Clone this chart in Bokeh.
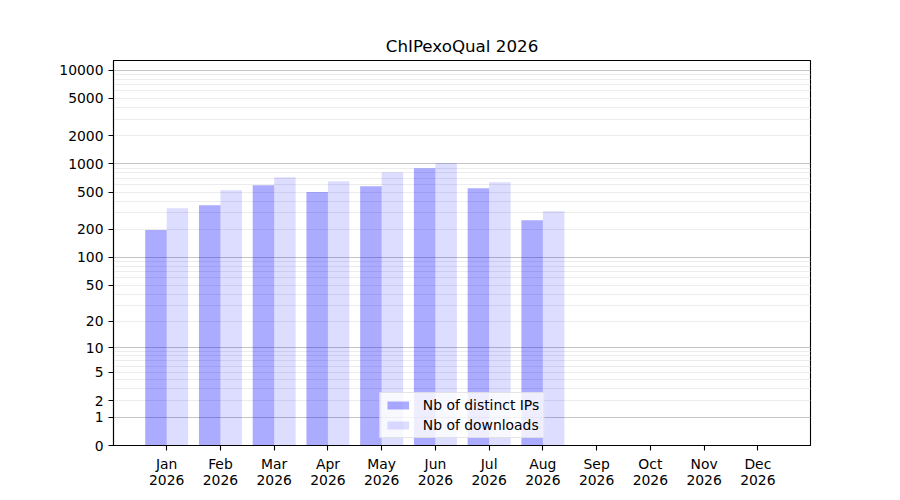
import numpy as np
from bokeh.plotting import figure
from bokeh.models import (FixedTicker, Range1d, ColumnDataSource, Legend, LegendItem,
                          CustomJSTickFormatter)
from bokeh.embed import file_html
from bokeh.resources import INLINE

# ---- data ----
title = "ChIPexoQual 2026"
year = "2026"
months = ["Jan", "Feb", "Mar", "Apr", "May", "Jun", "Jul", "Aug", "Sep", "Oct", "Nov", "Dec"]
ips = [197, 363, 593, 500, 579, 900, 551, 250]
downloads = [337, 525, 722, 654, 816, 1018, 638, 313]
y_tick_labels = [0, 1, 2, 5, 10, 20, 50, 100, 200, 500, 1000, 2000, 5000, 10000]
y_grid_major = [1, 10, 100, 1000, 10000]
y_top_value = 12650


def tr(v):
    # log10(1 + v) scale
    return np.log10(1.0 + np.asarray(v, dtype=float))


minor_vals = [m * 10 ** k for k in range(0, 5) for m in range(2, 10) if m * 10 ** k < y_top_value]

FONT = "DejaVu Sans"

p = figure(width=892, height=492, output_backend="svg", toolbar_location=None,
           x_range=Range1d(-0.99, 11.98), y_range=Range1d(0, float(tr(y_top_value))),
           min_border_left=113, min_border_right=82, min_border_top=60, min_border_bottom=47)

p.title.text = title
p.title.align = "center"
p.title.text_font = FONT
p.title.text_font_size = "16.7px"
p.title.text_font_style = "normal"
p.title.text_color = "black"
p.title.standoff = 9

p.outline_line_color = "black"
p.outline_line_width = 1.1
p.outline_line_alpha = 1.0

n = len(ips)
idx = np.arange(n)
src_ip = ColumnDataSource(dict(x=idx - 0.2, top=tr(ips)))
src_dl = ColumnDataSource(dict(x=idx + 0.2, top=tr(downloads)))

r_ip = p.vbar(x="x", top="top", bottom=0, width=0.4, source=src_ip,
              fill_color="blue", fill_alpha=0.33, line_color=None)
r_dl = p.vbar(x="x", top="top", bottom=0, width=0.4, source=src_dl,
              fill_color="blue", fill_alpha=0.135, line_color=None)

# x axis
p.xaxis.ticker = FixedTicker(ticks=list(range(len(months))), minor_ticks=[])
p.xaxis.major_label_overrides = {i: f"{m}\n{year}" for i, m in enumerate(months)}
p.xaxis.major_label_text_line_height = 1.0
p.xgrid.visible = False

# y axis
p.yaxis.ticker = FixedTicker(ticks=[float(v) for v in tr(y_tick_labels)], minor_ticks=[])
p.yaxis.formatter = CustomJSTickFormatter(code="return String(Math.round(Math.pow(10, tick) - 1));")

p.ygrid.ticker = FixedTicker(ticks=[float(v) for v in tr(y_grid_major)],
                             minor_ticks=[float(v) for v in tr(minor_vals)])
p.ygrid.grid_line_color = "#c4c4c4"
p.ygrid.grid_line_width = 1
p.ygrid.minor_grid_line_color = "#ececec"
p.ygrid.minor_grid_line_width = 1

for ax in (p.xaxis, p.yaxis):
    ax.axis_line_color = "black"
    ax.axis_line_width = 1.1
    ax.major_tick_line_color = "black"
    ax.major_tick_line_width = 1.1
    ax.major_tick_out = 5
    ax.major_tick_in = 0
    ax.minor_tick_line_color = None
    ax.major_label_text_font = FONT
    ax.major_label_text_font_size = "13.9px"
    ax.major_label_text_color = "black"
    ax.major_label_standoff = 5

legend = Legend(items=[LegendItem(label="Nb of distinct IPs", renderers=[r_ip]),
                       LegendItem(label="Nb of downloads", renderers=[r_dl])],
                location="bottom_center", orientation="vertical")
legend.margin = 7
legend.padding = 4
legend.spacing = 4
legend.label_height = 14
legend.glyph_height = 10
legend.glyph_width = 27
legend.label_standoff = 12
legend.label_text_font = FONT
legend.label_text_font_size = "13.9px"
legend.label_text_color = "black"
legend.background_fill_alpha = 0.8
legend.border_line_color = "#cccccc"
legend.border_line_width = 1
p.add_layout(legend)

open("out.html", "w").write(file_html(p, INLINE))
